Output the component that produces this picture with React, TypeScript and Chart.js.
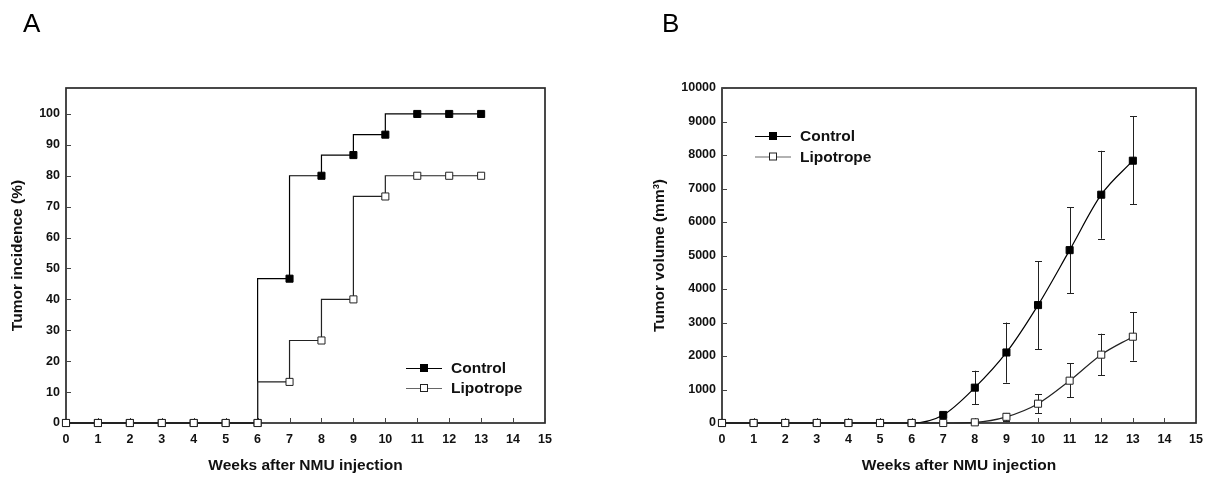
import React, { useEffect, useRef } from "react";
import { Chart, registerables } from "chart.js";

Chart.register(...registerables);

// ---------------- data ----------------
const weeks = [0, 1, 2, 3, 4, 5, 6, 7, 8, 9, 10, 11, 12, 13];

const incidenceControl = [0, 0, 0, 0, 0, 0, 0, 46.7, 80, 86.7, 93.3, 100, 100, 100];
const incidenceLipotrope = [0, 0, 0, 0, 0, 0, 0, 13.3, 26.7, 40, 73.3, 80, 80, 80];

const volumeControl = [0, 0, 0, 0, 0, 0, 0, 240, 1055, 2105, 3520, 5160, 6815, 7830];
const volumeControlHigh = [null, null, null, null, null, null, null, null, 1560, 3000, 4835, 6435, 8125, 9150];
const volumeControlLow = [null, null, null, null, null, null, null, null, 567, 1203, 2208, 3869, 5500, 6525];

const volumeLipotrope = [0, 0, 0, 0, 0, 0, 0, 0, 20, 185, 576, 1263, 2040, 2576];
const volumeLipotropeHigh = [null, null, null, null, null, null, null, null, null, 300, 866, 1779, 2666, 3313];
const volumeLipotropeLow = [null, null, null, null, null, null, null, null, null, 60, 287, 764, 1421, 1860];

const seriesNames = ["Control", "Lipotrope"];
const xTitle = "Weeks after NMU injection";
const yTitleA = "Tumor incidence (%)";
const yTitleB = "Tumor volume (mm\u00B3)";
const panelLabels = ["A", "B"];

// ---------------- styling ----------------
const FONT = "'Liberation Sans', Arial, Helvetica, sans-serif";
const INK = "#111";
const FRAME = "#2a2a2a";

const toPoints = (vals: number[]) => weeks.map((w, i) => ({ x: w, y: vals[i] }));

const framePlugin = {
  id: "frameTicks",
  beforeDatasetsDraw(chart: any) {
    const { ctx, chartArea, scales } = chart;
    const { left, top, right, bottom } = chartArea;
    ctx.save();
    ctx.strokeStyle = FRAME;
    ctx.lineWidth = 1.7;
    ctx.strokeRect(left, top, right - left, bottom - top);
    ctx.lineWidth = 1;
    ctx.strokeStyle = "#444";
    scales.x.ticks.forEach((t: any) => {
      const px = Math.round(scales.x.getPixelForValue(t.value)) + 0.5;
      ctx.beginPath();
      ctx.moveTo(px, bottom);
      ctx.lineTo(px, bottom - 5);
      ctx.stroke();
    });
    scales.y.ticks.forEach((t: any) => {
      const py = Math.round(scales.y.getPixelForValue(t.value)) + 0.5;
      ctx.beginPath();
      ctx.moveTo(left, py);
      ctx.lineTo(left + 5, py);
      ctx.stroke();
    });
    ctx.restore();
  },
  afterDraw(chart: any) {
    const o = chart.options.plugins.frameTicks;
    if (!o) return;
    const { ctx } = chart;
    ctx.save();
    ctx.fillStyle = "#000";
    ctx.font = `26px ${FONT}`;
    ctx.textBaseline = "alphabetic";
    ctx.textAlign = "left";
    ctx.fillText(o.label, o.labelX, o.labelY);
    ctx.restore();
  },
};

const legendPlugin = {
  id: "lineLegend",
  afterDraw(chart: any) {
    const o = chart.options.plugins.lineLegend;
    if (!o) return;
    const { ctx } = chart;
    ctx.save();
    chart.data.datasets.forEach((ds: any, i: number) => {
      const y = o.y + i * o.rowGap;
      ctx.strokeStyle = ds.legendLine || ds.borderColor;
      ctx.lineWidth = 1.2;
      ctx.beginPath();
      ctx.moveTo(o.x, y + 0.5);
      ctx.lineTo(o.x + o.lineLen, y + 0.5);
      ctx.stroke();
      const mx = o.x + o.lineLen / 2;
      const s = 7;
      ctx.fillStyle = ds.pointBackgroundColor;
      ctx.strokeStyle = ds.pointBorderColor;
      ctx.lineWidth = 1;
      ctx.fillRect(mx - s / 2, y - s / 2, s, s);
      ctx.strokeRect(mx - s / 2, y - s / 2, s, s);
      ctx.fillStyle = INK;
      ctx.font = `bold 15.5px ${FONT}`;
      ctx.textBaseline = "middle";
      ctx.textAlign = "left";
      ctx.fillText(ds.label, o.x + o.lineLen + o.textGap, y + 1);
    });
    ctx.restore();
  },
};

const errorBarPlugin = {
  id: "errorBars",
  beforeDatasetsDraw(chart: any) {
    const { ctx, scales } = chart;
    ctx.save();
    ctx.strokeStyle = "#222";
    ctx.lineWidth = 1;
    chart.data.datasets.forEach((ds: any) => {
      if (!ds.errHigh) return;
      weeks.forEach((w, i) => {
        const hi = ds.errHigh[i];
        const lo = ds.errLow[i];
        if (hi == null || lo == null) return;
        const px = Math.round(scales.x.getPixelForValue(w)) + 0.5;
        const py1 = scales.y.getPixelForValue(hi);
        const py2 = scales.y.getPixelForValue(lo);
        ctx.beginPath();
        ctx.moveTo(px, py1);
        ctx.lineTo(px, py2);
        ctx.moveTo(px - 3.5, Math.round(py1) + 0.5);
        ctx.lineTo(px + 3.5, Math.round(py1) + 0.5);
        ctx.moveTo(px - 3.5, Math.round(py2) + 0.5);
        ctx.lineTo(px + 3.5, Math.round(py2) + 0.5);
        ctx.stroke();
      });
    });
    ctx.restore();
  },
};

function makeDataset(label: string, vals: number[], filled: boolean, extra: any = {}) {
  return {
    label,
    data: toPoints(vals),
    borderColor: filled ? "#000" : "#222",
    borderWidth: 1.2,
    pointStyle: "rect",
    pointRadius: 5,
    pointHoverRadius: 5,
    pointBorderWidth: 1,
    pointBackgroundColor: filled ? "#000" : "#fff",
    pointBorderColor: filled ? "#000" : "#222",
    fill: false,
    clip: false,
    // open-square series is drawn on top of the filled one
    order: filled ? 1 : 0,
    ...extra,
  };
}

function baseScales(yMax: number, yStep: number, yWidth: number, yTitle: string, yTitlePad: number) {
  const tickFont = { family: FONT, size: 12.5, weight: "bold" as const };
  const titleFont = { family: FONT, size: 15.5, weight: "bold" as const };
  const plain = (v: any) => String(v);
  return {
    x: {
      type: "linear" as const,
      bounds: "data" as const,
      min: 0,
      max: 15,
      afterFit: (s: any) => {
        s.height = 56;
      },
      grid: { display: false, drawTicks: false },
      border: { display: false },
      ticks: { stepSize: 1, padding: 9, color: INK, font: tickFont, maxRotation: 0, autoSkip: false, callback: plain },
      title: { display: true, text: xTitle, color: INK, font: titleFont, padding: { top: 0, bottom: 4 } },
    },
    y: {
      type: "linear" as const,
      bounds: "data" as const,
      min: 0,
      max: yMax,
      afterFit: (s: any) => {
        s.width = yWidth;
      },
      grid: { display: false, drawTicks: false },
      border: { display: false },
      ticks: { stepSize: yStep, includeBounds: false, padding: 6, color: INK, font: tickFont, callback: plain },
      title: { display: true, text: yTitle, color: INK, font: titleFont, padding: { top: yTitlePad, bottom: 0 } },
    },
  };
}

function PanelA() {
  const ref = useRef<HTMLCanvasElement>(null);
  useEffect(() => {
    const chart = new Chart(ref.current as HTMLCanvasElement, {
      type: "line",
      data: {
        datasets: [
          makeDataset(seriesNames[0], incidenceControl, true, { stepped: "after" }),
          makeDataset(seriesNames[1], incidenceLipotrope, false, { stepped: "after", legendLine: "#666" }),
        ],
      },
      options: {
        responsive: false,
        animation: false,
        events: [],
        layout: { padding: { left: 0, top: 88, right: 61, bottom: 0 } },
        scales: baseScales(108.4, 10, 66, yTitleA, 8.7) as any,
        plugins: {
          legend: { display: false },
          tooltip: { enabled: false },
          frameTicks: { label: panelLabels[0], labelX: 23, labelY: 32 },
          lineLegend: { x: 406, y: 368, rowGap: 20, lineLen: 36, textGap: 9 },
        } as any,
      },
      plugins: [framePlugin, legendPlugin],
    } as any);
    return () => chart.destroy();
  }, []);
  return <canvas ref={ref} width={606} height={479} style={{ position: "absolute", left: 0, top: 0 }} />;
}

function PanelB() {
  const ref = useRef<HTMLCanvasElement>(null);
  useEffect(() => {
    const chart = new Chart(ref.current as HTMLCanvasElement, {
      type: "line",
      data: {
        datasets: [
          makeDataset(seriesNames[0], volumeControl, true, {
            cubicInterpolationMode: "monotone",
            errHigh: volumeControlHigh,
            errLow: volumeControlLow,
          }),
          makeDataset(seriesNames[1], volumeLipotrope, false, {
            cubicInterpolationMode: "monotone",
            errHigh: volumeLipotropeHigh,
            errLow: volumeLipotropeLow,
            legendLine: "#666",
          }),
        ],
      },
      options: {
        responsive: false,
        animation: false,
        events: [],
        layout: { padding: { left: 0, top: 88, right: 10, bottom: 0 } },
        scales: baseScales(10000, 1000, 116, yTitleB, 44) as any,
        plugins: {
          legend: { display: false },
          tooltip: { enabled: false },
          frameTicks: { label: panelLabels[1], labelX: 56, labelY: 32 },
          lineLegend: { x: 149, y: 136, rowGap: 20.5, lineLen: 36, textGap: 9 },
        } as any,
      },
      plugins: [framePlugin, legendPlugin, errorBarPlugin],
    } as any);
    return () => chart.destroy();
  }, []);
  return <canvas ref={ref} width={606} height={479} style={{ position: "absolute", left: 606, top: 0 }} />;
}

export default function App() {
  return (
    <div style={{ position: "absolute", left: 0, top: 0, width: 1212, height: 479, background: "#fff" }}>
      <PanelA />
      <PanelB />
    </div>
  );
}
